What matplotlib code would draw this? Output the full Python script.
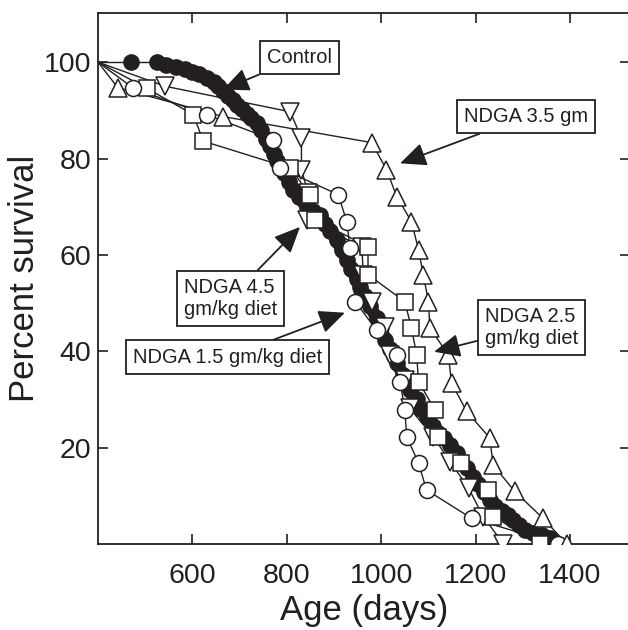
import matplotlib
matplotlib.use("Agg")
import matplotlib.pyplot as plt

plt.rcParams['font.family'] = ['Liberation Sans', 'DejaVu Sans']

INK = '#231f20'

# survival curves: age in days, percent surviving
control_days = [400, 470, 525, 545, 565, 585, 600, 615, 630, 645, 655, 665, 675, 685,
                695, 705, 715, 725, 736, 745, 755, 764, 772, 780, 786, 795, 805, 814,
                825, 842, 855, 870, 880, 892, 906, 916, 927, 937, 948, 955, 965, 976,
                990, 1000, 1008, 1019, 1026, 1033, 1047, 1061, 1075, 1085, 1096, 1110,
                1120, 1132, 1145, 1160, 1170, 1182, 1195, 1205, 1218, 1230, 1242, 1255,
                1268, 1280, 1292, 1305, 1322, 1340, 1357, 1366]
control_pct = [100, 100, 100, 99.5, 99, 98.5, 98, 97.5, 96.7, 95.8, 95, 94, 93, 92.2,
               91.2, 90.3, 89.3, 88.5, 87.4, 86, 84, 82.5, 81, 79.5, 78.4, 77, 75.2, 73.5,
               72, 70, 69.2, 68.3, 66.5, 65, 63.1, 61, 59, 57, 55, 53.4, 51.5, 49.3,
               47, 45, 42.4, 40.5, 39, 37.5, 35, 32, 30, 28, 26.4, 24.5,
               23, 22, 20.5, 18.8, 17.2, 15.8, 14, 12.5, 10.8, 9.1, 7.8, 6.8,
               6, 5, 4, 3, 2.2, 1.8, 1.2, 0.5]

ndga15_days = [400, 475, 630, 771, 786, 909, 927, 934, 945, 990, 1033, 1040, 1050, 1054,
               1079, 1096, 1192, 1375]
ndga15_pct = [100, 94.6, 89.1, 83.9, 78.0, 72.5, 66.9, 61.4, 50.3, 44.4, 39.3, 33.7, 27.8,
              22.3, 16.8, 11.2, 5.3, 0]

ndga25_days = [400, 503, 602, 623, 807, 849, 860, 972, 972, 1050, 1064, 1075, 1079, 1114,
               1121, 1170, 1227, 1237, 1336]
ndga25_pct = [100, 94.6, 89.1, 83.6, 78.0, 72.5, 67.3, 61.7, 55.9, 50.3, 44.8, 39.3, 33.7,
              27.8, 22.3, 16.8, 11.2, 5.7, 0]

ndga35_days = [400, 442, 665, 980, 1011, 1033, 1064, 1079, 1089, 1100, 1103, 1142, 1149,
               1181, 1230, 1237, 1283, 1343, 1393]
ndga35_pct = [100, 94.7, 88.7, 83.3, 77.7, 72.1, 66.9, 61.1, 55.9, 50.3, 44.8, 39.3, 33.4,
              27.5, 22.0, 16.4, 10.9, 5.3, 0]

ndga45_days = [400, 542, 807, 831, 831, 845, 842, 959, 962, 980, 1008, 1019, 1050, 1060,
               1110, 1146, 1185, 1216, 1259]
ndga45_pct = [100, 95.0, 89.7, 84.3, 77.7, 72.8, 67.3, 61.7, 55.9, 50.3, 45.1, 39.3, 34.1,
              28.2, 22.3, 17.1, 11.6, 5.7, 0]

fig = plt.figure(figsize=(6.28, 6.30), dpi=100)
ax = fig.add_axes([98 / 628, 86 / 630, 532 / 628, 531.5 / 630])

# control: thin lead-in, then the dense black band
ax.plot(control_days[:3], control_pct[:3], '-', color=INK, lw=1.0, zorder=2)
ax.plot(control_days[2:], control_pct[2:], '-', color=INK, lw=9, solid_capstyle='round',
        zorder=2)
ax.plot(control_days[1:], control_pct[1:], 'o', color=INK, ms=11, mec=INK, zorder=2)

series = [
    (ndga45_days, ndga45_pct, 'v', 12.5),
    (ndga25_days, ndga25_pct, 's', 11.5),
    (ndga15_days, ndga15_pct, 'o', 11.5),
    (ndga35_days, ndga35_pct, '^', 12.5),
]
for days, pct, mk, size in series:
    ax.plot(days, pct, '-', color=INK, lw=1.0, zorder=3)
    ax.plot(days[1:], pct[1:], mk, ms=size, mfc='white', mec=INK, mew=1.1,
            linestyle='none', zorder=4)

ax.set_xlim(400, 1527)
ax.set_ylim(0, 110.3)
ax.set_xticks([600, 800, 1000, 1200, 1400])
ax.set_yticks([20, 40, 60, 80, 100])
ax.tick_params(direction='in', length=7.5, width=1.2, labelsize=20.5, color=INK,
               labelcolor=INK, top=True, right=True)
ax.tick_params(axis='x', pad=14)
ax.tick_params(axis='y', pad=5)
for sp in ax.spines.values():
    sp.set_linewidth(1.3)
    sp.set_color(INK)

ax.set_xlabel('Age (days)', fontsize=25, color=INK, labelpad=3)
ax.set_ylabel('Percent survival', fontsize=25, color=INK, labelpad=2)

box = dict(boxstyle='square,pad=0.35', fc='white', ec=INK, lw=1.3)
arrow = dict(arrowstyle='-|>,head_length=1.0,head_width=0.45', color=INK, lw=1.3,
             shrinkA=0, shrinkB=0, mutation_scale=16)

def note(text, xy, xytext):
    ax.annotate(text, xy=xy, xytext=xytext, textcoords='data', fontsize=14.5,
                color=INK, ha='center', va='center', multialignment='left',
                bbox=box, arrowprops=arrow, zorder=6)

note('Control', xy=(665, 94.3), xytext=(826, 100.9))
note('NDGA 3.5 gm', xy=(1040, 79), xytext=(1306, 88.7))
note('NDGA 4.5\ngm/kg diet', xy=(828, 65.8), xytext=(680, 51))
note('NDGA 1.5 gm/kg diet', xy=(923, 48), xytext=(675, 38.8))
note('NDGA 2.5\ngm/kg diet', xy=(1112, 39.9), xytext=(1318, 45))

fig.savefig('out.png', dpi=100)
